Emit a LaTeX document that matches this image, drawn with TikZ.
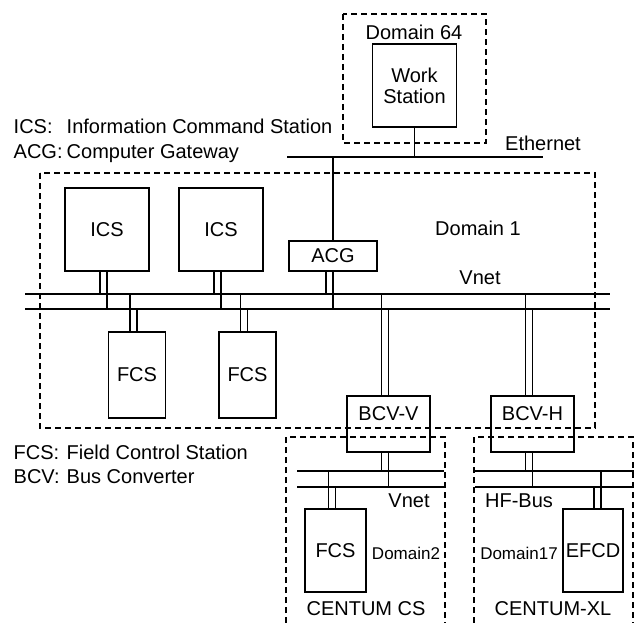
\documentclass[tikz,border=0pt]{standalone}
\usepackage{fontspec}
\setmainfont{Liberation Sans}
\begin{document}
\begin{tikzpicture}[x=1pt,y=-1pt,line width=1.4pt,
  station/.style={draw,inner sep=0pt,font=\fontsize{20}{21}\selectfont},
  lbl/.style={inner sep=0pt,font=\fontsize{20}{24}\selectfont},
  subtxt/.style={inner sep=0pt,font=\fontsize{17}{20}\selectfont},
  dombox/.style={line width=1.2pt,dash pattern=on 6pt off 4pt}]
\useasboundingbox (0,0) rectangle (634,623);
% domains
\draw [dombox] (343,14) rectangle (486,143);
\draw [dombox] (40,173) rectangle (595,428);
\draw [dombox] (286,623) -- (286,437) -- (445,437) -- (445,623);
\draw [dombox] (474,623) -- (474,437) -- (633,437) -- (633,623);
% stations
\node [station,minimum width=84pt,minimum height=83pt,align=center] (ws) at (414.5,85.5) {Work\\Station};
\node [station,minimum width=84pt,minimum height=83pt] (ics1) at (107,229.5) {ICS};
\node [station,minimum width=84pt,minimum height=83pt] (ics2) at (221,229.5) {ICS};
\node [station,minimum width=88pt,minimum height=30pt] (acg) at (333,256) {ACG};
\node [station,minimum width=57pt,minimum height=86pt] (fcs1) at (137,375) {FCS};
\node [station,minimum width=57pt,minimum height=86pt] (fcs2) at (247.5,375) {FCS};
\node [station,minimum width=83pt,minimum height=56pt] (bcvv) at (388.5,424) {};
\node [station,minimum width=83pt,minimum height=56pt] (bcvh) at (532.5,424) {};
\node [lbl] (bcvvtxt) at ([yshift=10pt]bcvv.center) {BCV-V};
\node [lbl] (bcvhtxt) at ([yshift=10pt]bcvh.center) {BCV-H};
\node [station,minimum width=61pt,minimum height=83pt] (fcs3) at (335.5,550.5) {FCS};
\node [station,minimum width=60pt,minimum height=83pt] (efcd) at (593,550.5) {EFCD};
% buses
\coordinate (ethL) at (287,157); \coordinate (ethR) at (543,157);
\coordinate (vtL) at (25,294); \coordinate (vtR) at (610,294);
\coordinate (vbL) at (25,309); \coordinate (vbR) at (610,309);
\coordinate (cstL) at (297,471); \coordinate (cstR) at (444,471);
\coordinate (csbL) at (297,487); \coordinate (csbR) at (444,487);
\coordinate (xltL) at (475,471); \coordinate (xltR) at (634,471);
\coordinate (xlbL) at (475,487); \coordinate (xlbR) at (634,487);
\foreach \a/\b in {ethL/ethR,vtL/vtR,vbL/vbR,cstL/cstR,csbL/csbR,xltL/xltR,xlbL/xlbR}
  \draw (\a) -- (\b);
% taps
\draw (ws.south) -- (ws.south |- ethL);
\draw (acg.north) -- (acg.north |- ethL);
\foreach \n in {ics1,ics2,acg} {
  \draw ([xshift=-7pt]\n.south) -- ([xshift=-7pt]\n.south |- vtL);
  \draw (\n.south) -- (\n.south |- vbL);
}
\foreach \n in {fcs1,fcs2,bcvv,bcvh} {
  \draw ([xshift=-7pt]\n.north) -- ([xshift=-7pt]\n.north |- vtL);
  \draw (\n.north) -- (\n.north |- vbL);
}
\draw ([xshift=-7pt]bcvv.south) -- ([xshift=-7pt]bcvv.south |- cstL);
\draw (bcvv.south) -- (bcvv.south |- csbL);
\draw ([xshift=-7pt]fcs3.north) -- ([xshift=-7pt]fcs3.north |- cstL);
\draw (fcs3.north) -- (fcs3.north |- csbL);
\draw ([xshift=-7pt]bcvh.south) -- ([xshift=-7pt]bcvh.south |- xltL);
\draw (bcvh.south) -- (bcvh.south |- xlbL);
\draw ([xshift=8pt]efcd.north) -- ([xshift=8pt]efcd.north |- xltL);
\draw ([xshift=1pt]efcd.north) -- ([xshift=1pt]efcd.north |- xlbL);
% labels
\node [lbl] (dom64lbl) at (414,32.5) {Domain 64};
\node [lbl] (ethlbl) at (543,143.5) {Ethernet};
\node [lbl] (dom1lbl) at (478,228) {Domain 1};
\node [lbl] (vnetlbl) at (480,278) {Vnet};
\node [lbl] (vnet2lbl) at (409,501) {Vnet};
\node [lbl] (hfbuslbl) at (519,501) {HF-Bus};
\node [subtxt] (dom2lbl) at (406,553) {Domain2};
\node [subtxt] (dom17lbl) at (519,553) {Domain17};
\node [lbl] (cslbl) at (366,609) {CENTUM CS};
\node [lbl] (xllbl) at (553,609) {CENTUM-XL};
% legend
\node [lbl,anchor=base west] (icskey) at (13,133) {ICS:};
\node [lbl,anchor=base west] (icstxt) at (66,133) {Information Command Station};
\node [lbl,anchor=base west] (acgkey) at (13,158) {ACG:};
\node [lbl,anchor=base west] (acgtxt) at (66,158) {Computer Gateway};
\node [lbl,anchor=base west] (fcskey) at (13,459) {FCS:};
\node [lbl,anchor=base west] (fcstxt) at (66,459) {Field Control Station};
\node [lbl,anchor=base west] (bcvkey) at (13,483) {BCV:};
\node [lbl,anchor=base west] (bcvtxt) at (66,483) {Bus Converter};
\end{tikzpicture}
\end{document}
